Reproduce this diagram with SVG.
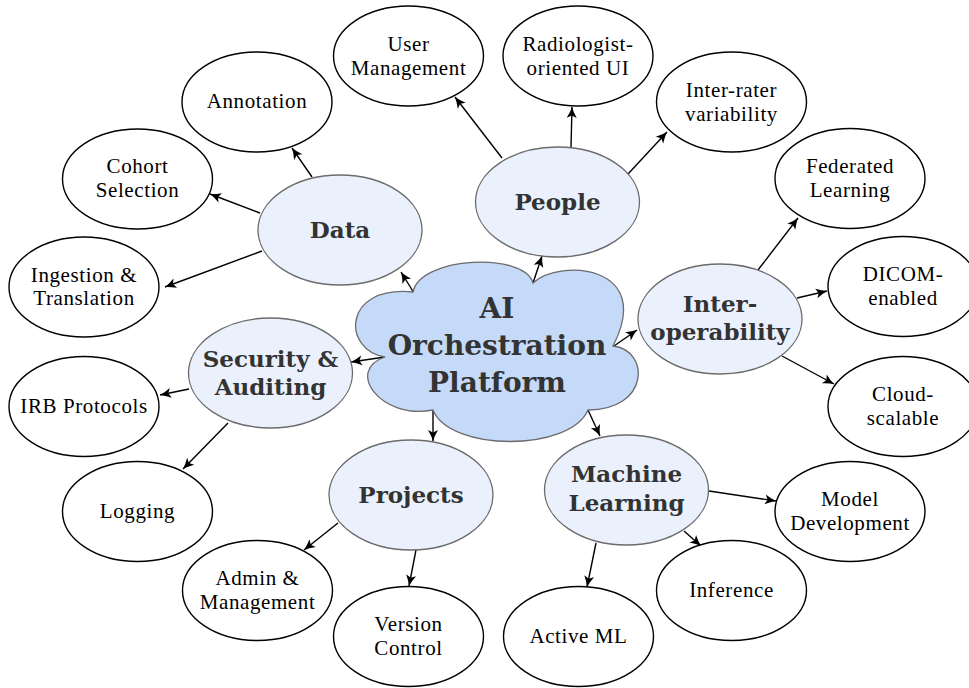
<svg xmlns="http://www.w3.org/2000/svg" width="969" height="688" viewBox="0 0 969 688">
<style>
.leaf ellipse{fill:#ffffff;stroke:#000;stroke-width:1.4}
.leaf text{font-size:21px;letter-spacing:0.6px;fill:#000;text-anchor:middle}
.cat ellipse{fill:#eaf1fc;stroke:#6b6b6b;stroke-width:1.3}
.cat text{font-size:23px;font-weight:bold;fill:#333;text-anchor:middle}
#cloud path{fill:#c5d9f8;stroke:#6b6b6b;stroke-width:1.3}
#cloud text{font-size:28px;font-weight:bold;fill:#333;text-anchor:middle}
#connectors line{stroke:#000;stroke-width:1.4;marker-end:url(#ah)}
</style>
<defs>
<marker id="ah" markerUnits="userSpaceOnUse" viewBox="-12 -6 13 12" refX="0" refY="0" markerWidth="13" markerHeight="12" orient="auto">
<path d="M-11,-5 Q-5,-1.5 0,0 Q-5,1.5 -11,5 L-8.5,0 Z" fill="#000"/>
</marker>
</defs>
<rect width="969" height="688" fill="#fff"/>
<g id="connectors">
<line x1="414" y1="293" x2="401" y2="272"/>
<line x1="533" y1="283" x2="542" y2="256"/>
<line x1="614" y1="346" x2="637" y2="330"/>
<line x1="385" y1="357" x2="351" y2="362"/>
<line x1="433" y1="410" x2="433" y2="441"/>
<line x1="588" y1="410" x2="600" y2="436"/>
<line x1="312" y1="177" x2="292" y2="148"/>
<line x1="260" y1="213" x2="210" y2="194"/>
<line x1="262" y1="251" x2="165" y2="287"/>
<line x1="502" y1="158" x2="455" y2="97"/>
<line x1="571" y1="147" x2="572" y2="107"/>
<line x1="628" y1="174" x2="667" y2="132"/>
<line x1="758" y1="270" x2="798" y2="218"/>
<line x1="797" y1="298" x2="827" y2="291"/>
<line x1="782" y1="356" x2="834" y2="384"/>
<line x1="189" y1="389" x2="160" y2="395"/>
<line x1="228" y1="423" x2="183" y2="469"/>
<line x1="338" y1="523" x2="304" y2="550"/>
<line x1="416" y1="550" x2="409" y2="586"/>
<line x1="709" y1="491" x2="776" y2="501"/>
<line x1="684" y1="531" x2="701" y2="546"/>
<line x1="596" y1="543" x2="587" y2="587"/>
</g>
<g id="cloud" font-family="DejaVu Serif, serif">
<path d="M385,357 C342,350 342,285 413,292 C420,256 525,252 533,283 C560,258 655,265 613,346 C650,350 650,410 588,410 C570,452 450,452 433,410 C380,420 345,370 385,357 Z"/>
<text x="497" y="318">AI</text>
<text x="497" y="355">Orchestration</text>
<text x="497" y="392">Platform</text>
</g>
<g font-family="DejaVu Serif, serif">
<g id="data" class="cat"><ellipse cx="340" cy="230" rx="82" ry="55"/><text x="340" y="238">Data</text></g>
<g id="people" class="cat"><ellipse cx="557.5" cy="202" rx="82" ry="55"/><text x="557.5" y="210">People</text></g>
<g id="interop" class="cat"><ellipse cx="720" cy="319" rx="82" ry="55"/><text x="720" y="312">Inter-</text><text x="720" y="340">operability</text></g>
<g id="security" class="cat"><ellipse cx="270.5" cy="373" rx="82" ry="55"/><text x="270.5" y="367">Security &amp;</text><text x="270.5" y="395">Auditing</text></g>
<g id="projects" class="cat"><ellipse cx="411" cy="495" rx="82" ry="55"/><text x="411" y="503">Projects</text></g>
<g id="ml" class="cat"><ellipse cx="626.5" cy="490" rx="82" ry="55"/><text x="626.5" y="482">Machine</text><text x="626.5" y="511">Learning</text></g>
</g>
<g font-family="Liberation Serif, serif">
<g id="usermgmt" class="leaf"><ellipse cx="408.5" cy="56" rx="75" ry="50"/><text x="408.5" y="51">User</text><text x="408.5" y="75">Management</text></g>
<g id="radiologist" class="leaf"><ellipse cx="578" cy="56" rx="75" ry="50"/><text x="578" y="51">Radiologist-</text><text x="578" y="75">oriented UI</text></g>
<g id="interrater" class="leaf"><ellipse cx="731.5" cy="102" rx="75" ry="50"/><text x="731.5" y="97">Inter-rater</text><text x="731.5" y="121">variability</text></g>
<g id="annotation" class="leaf"><ellipse cx="257" cy="102" rx="75" ry="50"/><text x="257" y="108">Annotation</text></g>
<g id="cohort" class="leaf"><ellipse cx="137.5" cy="179" rx="75" ry="50"/><text x="137.5" y="173">Cohort</text><text x="137.5" y="197">Selection</text></g>
<g id="ingestion" class="leaf"><ellipse cx="84" cy="287" rx="75" ry="50"/><text x="84" y="282">Ingestion &amp;</text><text x="84" y="305">Translation</text></g>
<g id="federated" class="leaf"><ellipse cx="850" cy="178.5" rx="75" ry="50"/><text x="850" y="173">Federated</text><text x="850" y="197">Learning</text></g>
<g id="dicom" class="leaf"><ellipse cx="903" cy="286.5" rx="75" ry="50"/><text x="903" y="281">DICOM-</text><text x="903" y="305">enabled</text></g>
<g id="cloudscalable" class="leaf"><ellipse cx="903" cy="406.5" rx="75" ry="50"/><text x="903" y="401">Cloud-</text><text x="903" y="425">scalable</text></g>
<g id="irb" class="leaf"><ellipse cx="84" cy="406.5" rx="75" ry="50"/><text x="84" y="413">IRB Protocols</text></g>
<g id="logging" class="leaf"><ellipse cx="137.5" cy="511.5" rx="75" ry="50"/><text x="137.5" y="518">Logging</text></g>
<g id="admin" class="leaf"><ellipse cx="257.5" cy="590.5" rx="75" ry="50"/><text x="257.5" y="585">Admin &amp;</text><text x="257.5" y="609">Management</text></g>
<g id="version" class="leaf"><ellipse cx="408.5" cy="636.5" rx="75" ry="50"/><text x="408.5" y="631">Version</text><text x="408.5" y="655">Control</text></g>
<g id="activeml" class="leaf"><ellipse cx="578.5" cy="636.5" rx="75" ry="50"/><text x="578.5" y="643">Active ML</text></g>
<g id="inference" class="leaf"><ellipse cx="731.5" cy="590.5" rx="75" ry="50"/><text x="731.5" y="597">Inference</text></g>
<g id="modeldev" class="leaf"><ellipse cx="850" cy="511.5" rx="75" ry="50"/><text x="850" y="506">Model</text><text x="850" y="530">Development</text></g>
</g>
</svg>
